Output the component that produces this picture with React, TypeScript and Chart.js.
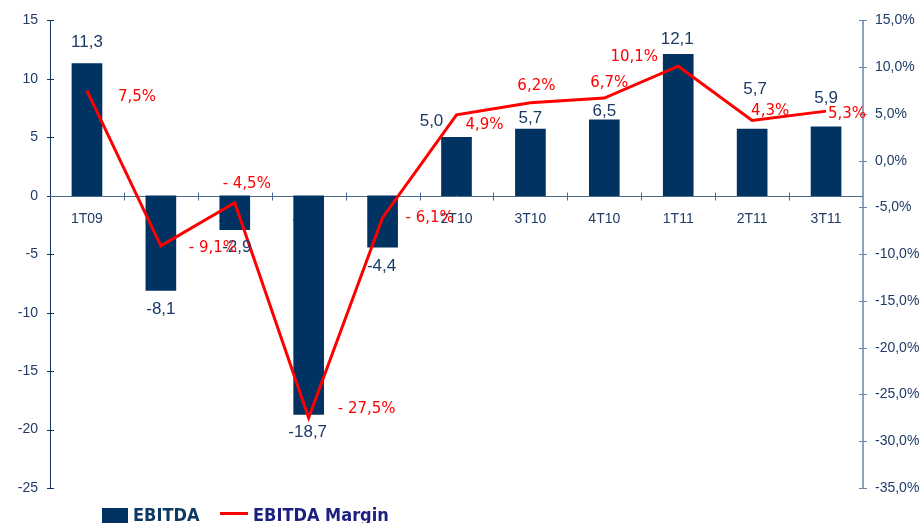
import React, { useEffect, useRef } from 'react';
import { Chart, registerables } from 'chart.js';

Chart.register(...registerables);

const categories = ['1T09', '2T09', '3T09', '4T09', '1T10', '2T10', '3T10', '4T10', '1T11', '2T11', '3T11'];
const ebitda = [11.3, -8.1, -2.9, -18.7, -4.4, 5.0, 5.7, 6.5, 12.1, 5.7, 5.9];
const ebitdaMargin = [7.5, -9.1, -4.5, -27.5, -6.1, 4.9, 6.2, 6.7, 10.1, 4.3, 5.3];

const leftMin = -25;
const leftMax = 15;
const rightMin = -35;
const rightMax = 15;
const tickStep = 5;

// label placement offsets (pixels, relative to bar end / line point)
const ebitdaLabelOffsets = [[0, -21], [0, 19], [2, 18], [-1, 18], [-1, 19], [-25, -16], [0, -11], [0, -8], [-1, -15], [3, -40], [0, -28]];
const marginLabelOffsets = [[50, 7], [52, 2], [12, -19], [58, -9], [47, 0], [28, 10], [6, -17], [5, -15], [-44, -9], [18, -9], [21, 3]];

const NAVY = '#003262';
const RED = '#ff0000';
const TICK_COLOR = '#1f3b66';
const TICK_FONT = "'Liberation Sans', Arial, sans-serif";

const fmtNum = (v: number) => v.toFixed(1).replace('.', ',');
const fmtPct = (v: number) => (v < 0 ? '- ' + Math.abs(v).toFixed(1).replace('.', ',') : v.toFixed(1).replace('.', ',')) + '%';

const axesPlugin = {
  id: 'customAxes',
  beforeDatasetsDraw(chart: any) {
    const { ctx, chartArea, scales } = chart;
    const y = scales.y;
    const y1 = scales.y1;
    const x = scales.x;
    ctx.save();
    // left axis
    ctx.lineWidth = 1;
    ctx.strokeStyle = '#12355f';
    ctx.beginPath();
    ctx.moveTo(chartArea.left + 0.5, chartArea.top);
    ctx.lineTo(chartArea.left + 0.5, chartArea.bottom);
    ctx.stroke();
    y.ticks.forEach((t: any) => {
      const py = Math.round(y.getPixelForValue(t.value)) + 0.5;
      ctx.beginPath();
      ctx.moveTo(chartArea.left - 3, py);
      ctx.lineTo(chartArea.left + 4, py);
      ctx.stroke();
    });
    // right axis
    ctx.strokeStyle = '#6685aa';
    ctx.lineWidth = 1.5;
    ctx.beginPath();
    ctx.moveTo(chartArea.right, chartArea.top);
    ctx.lineTo(chartArea.right, chartArea.bottom);
    ctx.stroke();
    ctx.lineWidth = 1;
    y1.ticks.forEach((t: any) => {
      const py = Math.round(y1.getPixelForValue(t.value)) + 0.5;
      ctx.beginPath();
      ctx.moveTo(chartArea.right - 4, py);
      ctx.lineTo(chartArea.right + 4, py);
      ctx.stroke();
    });
    // zero line
    const zy = Math.round(y.getPixelForValue(0)) + 0.5;
    ctx.strokeStyle = '#4a6a92';
    ctx.lineWidth = 1;
    ctx.beginPath();
    ctx.moveTo(chartArea.left, zy);
    ctx.lineTo(chartArea.right, zy);
    ctx.stroke();
    for (let i = 0; i < categories.length - 1; i++) {
      const bx = Math.round((x.getPixelForValue(i) + x.getPixelForValue(i + 1)) / 2) + 0.5;
      ctx.beginPath();
      ctx.moveTo(bx, zy - 4);
      ctx.lineTo(bx, zy + 4);
      ctx.stroke();
    }
    ctx.restore();
  },
  afterDatasetsDraw(chart: any) {
    const { ctx } = chart;
    const barMeta = chart.getDatasetMeta(1);
    const lineMeta = chart.getDatasetMeta(0);
    ctx.save();
    ctx.textAlign = 'center';
    ctx.textBaseline = 'middle';
    ctx.font = "17px 'Liberation Sans', Arial, sans-serif";
    ctx.fillStyle = '#1c3a66';
    barMeta.data.forEach((el: any, i: number) => {
      const [dx, dy] = ebitdaLabelOffsets[i];
      ctx.fillText(fmtNum(ebitda[i]), el.x + dx, el.y + dy);
    });
    ctx.font = "15px 'DejaVu Sans', Verdana, sans-serif";
    ctx.fillStyle = RED;
    lineMeta.data.forEach((el: any, i: number) => {
      const [dx, dy] = marginLabelOffsets[i];
      ctx.fillText(fmtPct(ebitdaMargin[i]), el.x + dx, el.y + dy);
    });
    ctx.restore();
  },
  afterDraw(chart: any) {
    const { ctx } = chart;
    ctx.save();
    ctx.fillStyle = NAVY;
    ctx.fillRect(102, 508, 26, 15);
    ctx.font = "bold 18px 'DejaVu Sans Condensed', 'DejaVu Sans', sans-serif";
    ctx.textBaseline = 'alphabetic';
    ctx.textAlign = 'left';
    ctx.fillStyle = '#0d3a62';
    ctx.fillText(chart.data.datasets[1].label, 133, 521);
    ctx.strokeStyle = RED;
    ctx.lineWidth = 3;
    ctx.beginPath();
    ctx.moveTo(220, 513.5);
    ctx.lineTo(248, 513.5);
    ctx.stroke();
    ctx.fillStyle = '#1a1f80';
    ctx.fillText(chart.data.datasets[0].label, 253, 521);
    ctx.restore();
  },
};

export default function App() {
  const canvasRef = useRef<HTMLCanvasElement | null>(null);

  useEffect(() => {
    document.body.style.margin = '0';
    const canvas = canvasRef.current;
    if (!canvas) return;
    const chart = new Chart(canvas, {
      type: 'bar',
      data: {
        labels: categories,
        datasets: [
          {
            type: 'line',
            label: 'EBITDA Margin',
            data: ebitdaMargin,
            yAxisID: 'y1',
            borderColor: RED,
            backgroundColor: RED,
            borderWidth: 3,
            pointRadius: 0,
            tension: 0,
            order: 0,
          } as any,
          {
            type: 'bar',
            label: 'EBITDA',
            data: ebitda,
            yAxisID: 'y',
            backgroundColor: NAVY,
            borderWidth: 0,
            barThickness: 30,
            order: 1,
          },
        ],
      },
      options: {
        responsive: false,
        animation: false,
        devicePixelRatio: 1,
        layout: { padding: { top: 20, bottom: 35, left: 0, right: 0 } },
        plugins: {
          legend: { display: false },
          tooltip: { enabled: false },
        },
        scales: {
          x: {
            type: 'category',
            position: { y: 0 } as any,
            offset: true,
            grid: { display: false, drawTicks: false },
            border: { display: false },
            ticks: {
              color: TICK_COLOR,
              font: { family: TICK_FONT, size: 14 },
              padding: 15,
              maxRotation: 0,
              autoSkip: false,
            },
          },
          y: {
            type: 'linear',
            position: 'left',
            min: leftMin,
            max: leftMax,
            grid: { display: false, drawTicks: false },
            border: { display: false },
            ticks: {
              stepSize: tickStep,
              color: TICK_COLOR,
              font: { family: TICK_FONT, size: 14 },
              padding: 12,
            },
            afterFit: (s: any) => { s.width = 50; },
          },
          y1: {
            type: 'linear',
            position: 'right',
            min: rightMin,
            max: rightMax,
            grid: { display: false, drawTicks: false },
            border: { display: false },
            ticks: {
              stepSize: tickStep,
              color: TICK_COLOR,
              font: { family: TICK_FONT, size: 14 },
              padding: 12,
              callback: (v: any) => Number(v).toFixed(1).replace('.', ',') + '%',
            },
            afterFit: (s: any) => { s.width = 61; },
          },
        },
      },
      plugins: [axesPlugin],
    });
    return () => chart.destroy();
  }, []);

  return (
    <div style={{ width: 924, height: 523, background: '#ffffff' }}>
      <canvas ref={canvasRef} width={924} height={523} style={{ display: 'block' }} />
    </div>
  );
}
